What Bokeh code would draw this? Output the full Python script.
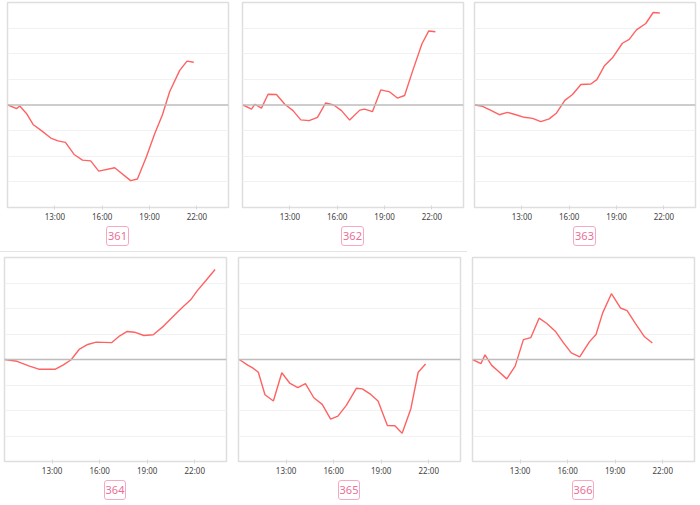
from bokeh.plotting import figure
from bokeh.layouts import row, column
from bokeh.models import FixedTicker, Span, Div, GlobalInlineStyleSheet
from bokeh.embed import file_html
from bokeh.resources import INLINE

# ---- data (hours of day, relative value) ----
t361 = [10.04, 10.57, 10.78, 11.2, 11.62, 12.15, 12.74, 13.2, 13.67, 14.22, 14.75, 15.27, 15.78, 16.79, 17.8, 18.23, 18.8, 19.33, 19.81, 20.27, 20.9, 21.37, 21.8]
v361 = [0, -0.14, -0.04, -0.33, -0.76, -1.0, -1.29, -1.40, -1.46, -1.93, -2.15, -2.18, -2.58, -2.45, -2.95, -2.89, -2.02, -1.11, -0.39, 0.52, 1.34, 1.71, 1.67]

t362 = [10.04, 10.57, 10.78, 11.2, 11.62, 12.15, 12.68, 13.2, 13.69, 14.22, 14.75, 15.27, 15.78, 16.27, 16.79, 17.43, 17.74, 18.23, 18.76, 19.33, 19.81, 20.27, 20.8, 21.37, 21.8, 22.22]
v362 = [0, -0.16, 0.03, -0.12, 0.42, 0.41, 0.03, -0.22, -0.58, -0.61, -0.48, 0.08, 0, -0.22, -0.59, -0.20, -0.16, -0.26, 0.59, 0.51, 0.27, 0.37, 1.37, 2.39, 2.89, 2.86]

t363 = [10.03, 10.51, 11.04, 11.57, 12.09, 12.62, 13.15, 13.68, 14.2, 14.73, 15.2, 15.72, 16.21, 16.74, 17.37, 17.75, 18.22, 18.74, 19.37, 19.8, 20.26, 20.85, 21.32, 21.74]
v363 = [0, -0.05, -0.21, -0.38, -0.29, -0.38, -0.48, -0.52, -0.65, -0.54, -0.31, 0.18, 0.41, 0.80, 0.82, 0.99, 1.52, 1.84, 2.41, 2.56, 2.93, 3.18, 3.61, 3.59]

t364 = [10.01, 10.79, 11.53, 12.16, 13.21, 13.69, 14.2, 14.73, 15.25, 15.78, 16.75, 17.27, 17.74, 18.2, 18.79, 19.38, 20.05, 20.68, 21.21, 21.74, 22.16, 22.69, 23.28]
v364 = [0, -0.07, -0.25, -0.38, -0.38, -0.22, -0.01, 0.41, 0.59, 0.68, 0.66, 0.93, 1.10, 1.07, 0.94, 0.97, 1.32, 1.72, 2.04, 2.34, 2.70, 3.09, 3.53]

t365 = [10.05, 10.58, 10.89, 11.25, 11.67, 12.2, 12.73, 13.25, 13.74, 14.22, 14.75, 15.28, 15.81, 16.27, 16.8, 17.43, 17.81, 18.34, 18.8, 19.39, 19.86, 20.32, 20.87, 21.33, 21.8]
v365 = [0, -0.22, -0.33, -0.50, -1.38, -1.63, -0.52, -0.94, -1.10, -0.95, -1.50, -1.76, -2.34, -2.22, -1.80, -1.13, -1.15, -1.37, -1.63, -2.59, -2.60, -2.89, -1.93, -0.50, -0.18]

t366 = [10.0, 10.53, 10.79, 11.21, 11.63, 12.16, 12.69, 13.21, 13.68, 14.2, 14.69, 15.22, 15.74, 16.23, 16.76, 17.37, 17.79, 18.21, 18.76, 19.33, 19.75, 20.28, 20.85, 21.34]
v366 = [0, -0.16, 0.18, -0.23, -0.46, -0.76, -0.26, 0.78, 0.86, 1.62, 1.41, 1.11, 0.65, 0.26, 0.10, 0.69, 0.98, 1.83, 2.58, 2.02, 1.92, 1.41, 0.89, 0.65]

names = ["361", "362", "363", "364", "365", "366"]
tick_hours = [13, 16, 19, 22]
tick_labels = ["13:00", "16:00", "19:00", "22:00"]

LINE = "#ff6262"
PINK_BORDER = "#f7a9c3"
PINK_TEXT = "#ea6f96"


def panel(name, t, v, left, right, top, fw, fh):
    p = figure(frame_width=fw, frame_height=fh, x_range=(10, 24), y_range=(-4, 4),
               output_backend="svg", toolbar_location=None, y_axis_location=None,
               min_border_left=left, min_border_right=right,
               min_border_top=top, min_border_bottom=16)
    p.outline_line_color = "#dedede"
    p.outline_line_width = 1.5
    p.xgrid.visible = False
    p.ygrid.ticker = FixedTicker(ticks=[-3, -2, -1, 1, 2, 3])
    p.ygrid.grid_line_color = "#f1f1f1"
    p.ygrid.grid_line_width = 1
    ax = p.xaxis[0]
    ax.ticker = FixedTicker(ticks=tick_hours)
    ax.major_label_overrides = {h: s for h, s in zip(tick_hours, tick_labels)}
    ax.axis_line_color = None
    ax.major_tick_line_color = "#d8d8d8"
    ax.major_tick_in = 2
    ax.major_tick_out = 2
    ax.minor_tick_line_color = None
    ax.major_label_standoff = 1
    ax.major_label_text_font = "Noto Sans"
    ax.major_label_text_font_size = "8px"
    ax.major_label_text_color = "#444444"
    p.add_layout(Span(location=0, dimension="width", line_color="#bdbdbd", line_width=1.5))
    p.line(t, v, line_color=LINE, line_width=1.4)
    width = left + fw + right
    html = ('<div style="width:%dpx;box-sizing:border-box;padding-left:%dpx;padding-right:%dpx;'
            'display:flex;justify-content:center;align-items:flex-start;padding-top:2px;">'
            '<div style="border:1px solid %s;border-radius:3px;'
            'padding:1px 1px;font-family:\'Noto Sans\';font-size:11px;line-height:16px;color:%s;">%s</div>'
            '</div>') % (width, left, right, PINK_BORDER, PINK_TEXT, name)
    lab = Div(text=html, width=width, height=27, margin=0)
    return column(p, lab, spacing=0, margin=0)


c1 = panel(names[0], t361, v361, 7, 7, 2, 221, 205)
c2 = panel(names[1], t362, v362, 7, 5, 2, 221, 205)
c3 = panel(names[2], t363, v363, 6, 3, 2, 221, 205)

c4 = panel(names[3], t364, v364, 4, 6, 5, 222, 204)
c5 = panel(names[4], t365, v365, 6, 6, 5, 222, 204)
c6 = panel(names[5], t366, v366, 6, 4, 5, 222, 204)

sep = Div(text="", width=467, height=1, margin=0, styles={"background-color": "#e4e4e4"})

layout = column(row(c1, c2, c3, spacing=0), sep, row(c4, c5, c6, spacing=0), spacing=0,
                stylesheets=[GlobalInlineStyleSheet(css="html, body { margin: 0 !important; padding: 0; overflow: hidden; }")])

open("out.html", "w").write(file_html(layout, INLINE))
